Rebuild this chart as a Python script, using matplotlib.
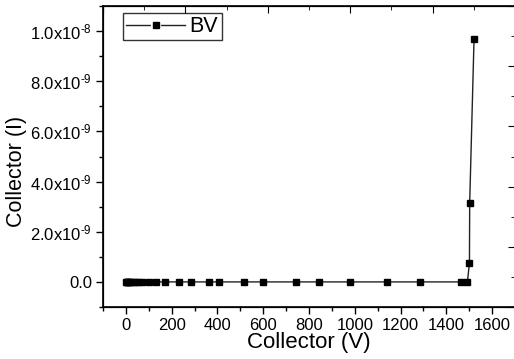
import matplotlib
matplotlib.use('Agg')
import matplotlib.pyplot as plt
from matplotlib.lines import Line2D
from matplotlib.legend_handler import HandlerTuple
from matplotlib.ticker import MultipleLocator, FuncFormatter

plt.rcParams['font.family'] = ['Liberation Sans', 'DejaVu Sans']
plt.rcParams['mathtext.fontset'] = 'custom'
plt.rcParams['mathtext.rm'] = 'Liberation Sans'
plt.rcParams['mathtext.it'] = 'Liberation Sans'
plt.rcParams['axes.unicode_minus'] = False

# data
volts = [0, 3, 6, 10, 15, 20, 30, 40, 55, 70, 100, 130, 170, 234, 285, 362, 407,
         516, 600, 745, 844, 978, 1142, 1283, 1462, 1492, 1501, 1502, 1521]
current = [0, 0, 0, 0, 0, 0, 0, 0, 0, 0, 0, 0, 0, 0, 0, 0, 0,
           0, 0, 0, 0, 0, 0, 0, 0, 0, 7.6e-10, 3.14e-9, 9.67e-9]


def sci(v, pos):
    if abs(v) < 1e-15:
        return '0.0'
    exp = int(f'{v:e}'.split('e')[1])
    mant = v / 10**exp
    return f'{mant:.1f}x10$^{{\\text{{{exp}}}}}$'


fig = plt.figure(figsize=(5.14, 3.59), dpi=100)
ax = fig.add_axes([103/514, 52/359, 412/514, 301/359])

ax.plot(volts, current, color='#222222', lw=1, marker='s', ms=4.5,
        mfc='black', mec='black')

ax.set_xlim(-100, 1700)
ax.set_ylim(-1e-9, 1.1e-8)
ax.xaxis.set_major_locator(MultipleLocator(200))
ax.xaxis.set_minor_locator(MultipleLocator(100))
ax.yaxis.set_major_locator(MultipleLocator(2e-9))
ax.yaxis.set_minor_locator(MultipleLocator(1e-9))
ax.yaxis.set_major_formatter(FuncFormatter(sci))
ax.yaxis.get_offset_text().set_visible(False)
ax.tick_params(which='both', direction='out', labelsize=12, width=1)
ax.tick_params(which='major', length=5, pad=3)
ax.tick_params(which='minor', length=3)
ax.spines['right'].set_visible(False)
for s in ['left', 'bottom', 'top']:
    ax.spines[s].set_linewidth(1.2)

ax.set_xlabel('Collector (V)', fontsize=16, labelpad=-1)
ax.set_ylabel('Collector (I)', fontsize=15.5)
ax.yaxis.set_label_coords(-0.184, 0.452)

# top and right ticks (Origin style frame)
top = ax.twiny()
top.set_xlim(0, 5)
top.xaxis.set_major_locator(MultipleLocator(1))
top.xaxis.set_minor_locator(MultipleLocator(0.5))
top.tick_params(which='both', direction='in', labeltop=False)
top.tick_params(which='major', length=5)
top.tick_params(which='minor', length=3)
right = ax.twinx()
right.set_ylim(0, 5)
right.yaxis.set_major_locator(MultipleLocator(1))
right.yaxis.set_minor_locator(MultipleLocator(0.5))
right.tick_params(which='both', direction='in', labelright=False)
right.tick_params(which='major', length=5)
right.tick_params(which='minor', length=3)
for a in (top, right):
    a.spines['right'].set_visible(False)

# legend handle: line broken around the marker, Origin style
h_line = Line2D([], [], color='#222222', lw=1)
h_gap = Line2D([], [], ls='none', marker='s', ms=5, mfc='black', mec='white', mew=3)
h_mark = Line2D([], [], ls='none', marker='s', ms=5, mfc='black', mec='black')
leg = ax.legend([(h_line, h_gap, h_mark)], ['BV'],
                handler_map={tuple: HandlerTuple(ndivide=1, pad=0)},
                loc='upper left', bbox_to_anchor=(20/412, 1 - 7/301),
                fontsize=15.5, frameon=True, fancybox=False,
                edgecolor='#333333', borderpad=0.15, handlelength=2.75,
                handletextpad=0.2, borderaxespad=0, framealpha=1)
leg.get_frame().set_linewidth(1.0)

fig.savefig('out.png', dpi=100)
